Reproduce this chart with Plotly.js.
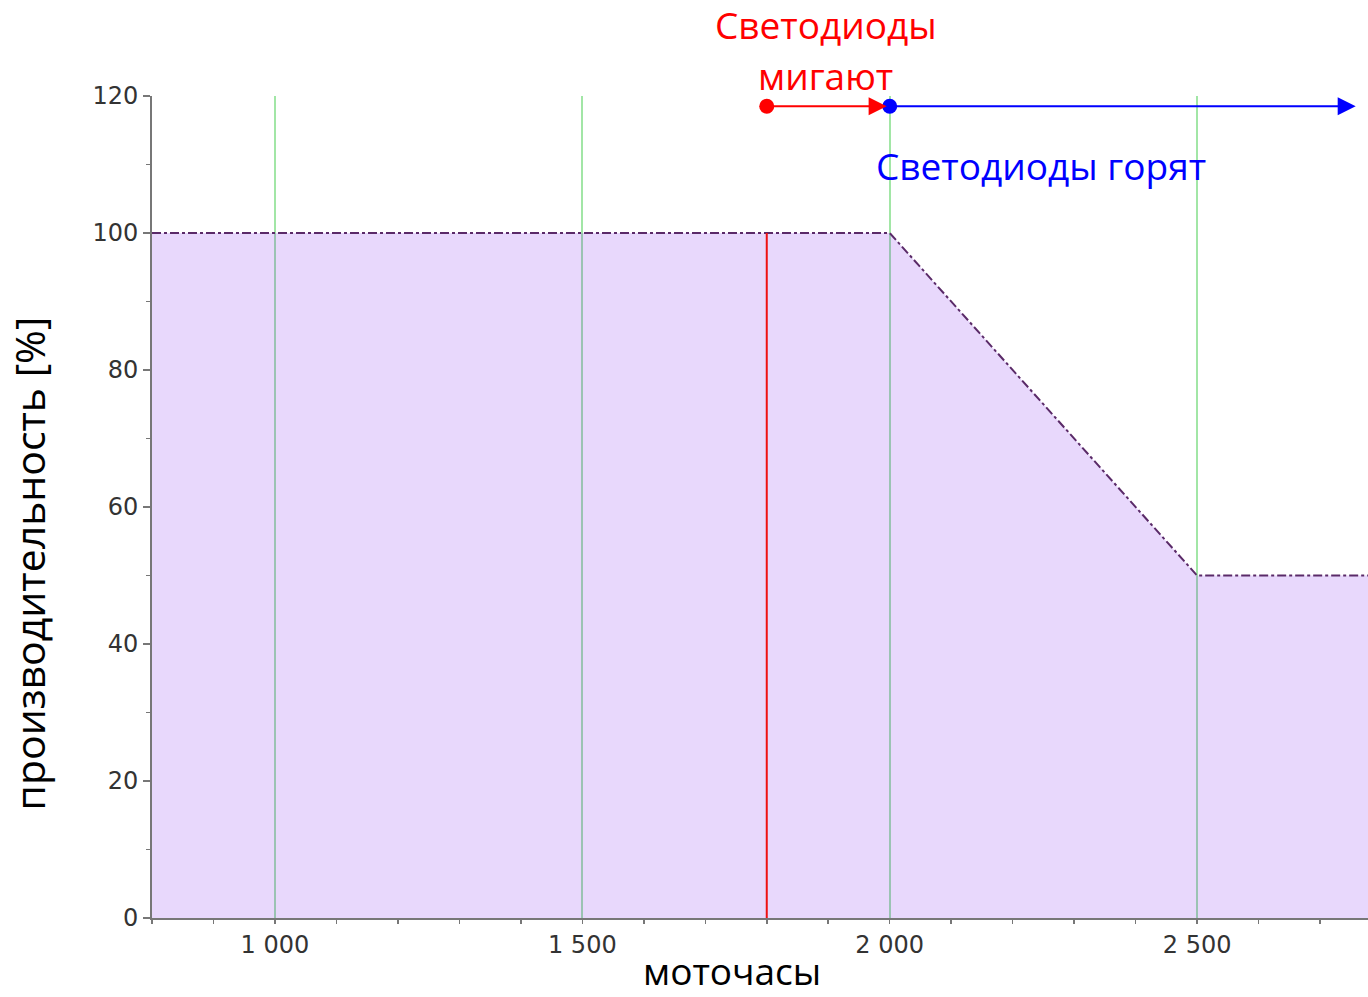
<!DOCTYPE html>
<html>
<head>
<meta charset="utf-8">
<script src="https://cdn.plot.ly/plotly-3.0.1.min.js"></script>
<style>html,body{margin:0;padding:0;background:#fff;}#chart{width:1368px;height:997px;}</style>
</head>
<body>
<div id="chart"></div>
<script>
// performance curve
var hours = [800, 2000, 2500, 2778];
var performance = [100, 100, 50, 50];
// red marker line (LED blink start)
var blinkHours = [1800, 1800];
var blinkLevel = [0, 100];
// LED state arrows
var blinkStart = 1800, blinkEnd = 1995;
var onStart = 2000, onEnd = 2758;
var arrowLevel = 118.5;
var xRange = [800, 2778];
var yRange = [0, 120];
var labelBlink1 = 'Светодиоды';
var labelBlink2 = 'мигают';
var labelOn = 'Светодиоды горят';
var xTitle = 'моточасы';
var yTitle = 'производительность [%]';

var annFont = 'Open Sans, Noto Sans, sans-serif';

var traces = [
  {x: hours, y: performance, type: 'scatter', mode: 'lines', fill: 'tozeroy',
   fillcolor: 'rgba(130,40,238,0.18)',
   line: {color: '#5a2a68', width: 2, dash: 'dashdot'}, hoverinfo: 'skip'},
  {x: blinkHours, y: blinkLevel, type: 'scatter', mode: 'lines',
   line: {color: '#ee1111', width: 2}, hoverinfo: 'skip'},
  {x: [blinkStart], y: [arrowLevel], type: 'scatter', mode: 'markers',
   marker: {color: '#ff0000', size: 15}, hoverinfo: 'skip', cliponaxis: false},
  {x: [onStart], y: [arrowLevel], type: 'scatter', mode: 'markers',
   marker: {color: '#0000ff', size: 15}, hoverinfo: 'skip', cliponaxis: false}
];

var layout = {
  width: 1368, height: 997,
  margin: {l: 152, r: 0, t: 96, b: 79},
  paper_bgcolor: '#fff', plot_bgcolor: '#fff',
  showlegend: false,
  separators: '. ',
  xaxis: {
    range: xRange, tick0: 0, dtick: 500, separatethousands: true,
    showgrid: true, gridcolor: '#a2e6a6', gridwidth: 2, zeroline: false,
    showline: true, linecolor: '#777', linewidth: 2,
    ticks: 'outside', ticklen: 4, tickwidth: 1.5, tickcolor: '#777',
    minor: {dtick: 100, tick0: 0, ticks: 'outside', ticklen: 4, tickcolor: '#777', showgrid: false},
    tickfont: {family: 'DejaVu Sans', size: 24, color: '#333'}
  },
  yaxis: {
    range: yRange, dtick: 20, showgrid: false, zeroline: false,
    showline: true, linecolor: '#777', linewidth: 2,
    ticks: 'outside', ticklen: 7, tickwidth: 1.5, tickcolor: '#777',
    minor: {dtick: 10, ticks: 'outside', ticklen: 4, tickcolor: '#777', showgrid: false},
    tickfont: {family: 'DejaVu Sans', size: 24, color: '#333'}
  },
  annotations: [
    {x: blinkEnd, y: arrowLevel, ax: blinkStart, ay: arrowLevel, axref: 'x', ayref: 'y',
     xref: 'x', yref: 'y', showarrow: true, arrowhead: 2, arrowsize: 1.8, arrowwidth: 2,
     arrowcolor: '#ff0000', text: ''},
    {x: onEnd, y: arrowLevel, ax: onStart, ay: arrowLevel, axref: 'x', ayref: 'y',
     xref: 'x', yref: 'y', showarrow: true, arrowhead: 2, arrowsize: 1.8, arrowwidth: 2,
     arrowcolor: '#0000ff', text: ''},
    {x: 1896, y: 1.0864, xref: 'x', yref: 'paper', text: labelBlink1, showarrow: false,
     xanchor: 'center', yanchor: 'middle', font: {family: annFont, size: 37, color: '#ff0000'}},
    {x: 1896, y: 1.0255, xref: 'x', yref: 'paper', text: labelBlink2, showarrow: false,
     xanchor: 'center', yanchor: 'middle', font: {family: annFont, size: 37, color: '#ff0000'}},
    {x: 1974, y: 109.8, xref: 'x', yref: 'y', text: labelOn, showarrow: false,
     xanchor: 'left', yanchor: 'middle', font: {family: annFont, size: 37, color: '#0000ff'}},
    {x: 0.477, y: -0.0633, xref: 'paper', yref: 'paper', text: xTitle, showarrow: false,
     xanchor: 'center', yanchor: 'middle', borderpad: 0, font: {family: annFont, size: 37, color: '#000'}},
    {x: -0.1015, y: 0.4307, xref: 'paper', yref: 'paper', text: yTitle, showarrow: false,
     textangle: -90, xanchor: 'center', yanchor: 'middle', font: {family: annFont, size: 41, color: '#000'}}
  ]
};

Plotly.newPlot('chart', traces, layout, {staticPlot: true, displayModeBar: false});
</script>
</body>
</html>
